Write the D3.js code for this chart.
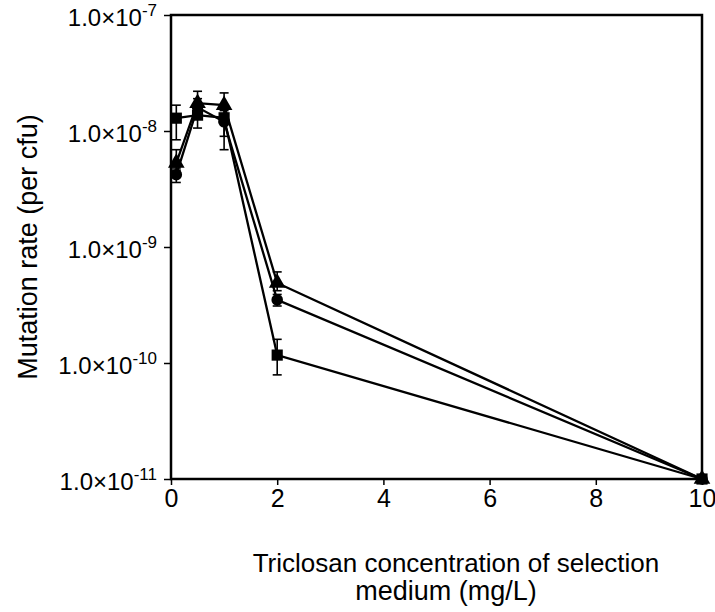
<!DOCTYPE html>
<html>
<head>
<meta charset="utf-8">
<script src="https://cdn.jsdelivr.net/npm/d3@7"></script>
<style>
  body { margin: 0; background: #fff; }
  text { font-family: "Liberation Sans", Arial, sans-serif; fill: #000; }
</style>
</head>
<body>
<div id="chart"></div>
<script>
// concentrations (mg/L)
const concentrations = [0.1, 0.5, 1, 2, 10];

// mutation rates per strain
const squareRates = [1.29e-8, 1.37e-8, 1.3e-8, 1.17e-10, 1e-11];
const circleRates = [4.2e-9, 1.6e-8, 1.2e-8, 3.5e-10, 1e-11];
const triangleRates = [5.3e-9, 1.74e-8, 1.67e-8, 4.9e-10, 1e-11];

// error bar limits (low, high); null = no bar
const squareErr = [[8.4e-9, 1.67e-8], [1.06e-8, 1.7e-8], [6.9e-9, 1.5e-8], [7.9e-11, 1.6e-10], null];
const circleErr = [[3.6e-9, 4.8e-9], [1.4e-8, 1.9e-8], [9e-9, 1.4e-8], [3.1e-10, 3.9e-10], null];
const triangleErr = [[4.6e-9, 6.9e-9], [1.45e-8, 2.2e-8], [1.3e-8, 2.13e-8], [4.2e-10, 6.1e-10], null];

const xTicks = [0, 2, 4, 6, 8, 10];
const yTicks = [-7, -8, -9, -10, -11];

const width = 715, height = 612;
const margin = {left: 171, right: 13, top: 15, bottom: 133};

const svg = d3.select("#chart").append("svg")
    .attr("width", width)
    .attr("height", height);

let x = d3.scaleLinear()
    .domain([0, 10])
    .range([margin.left, width - margin.right]);

let y = d3.scaleLog()
    .domain([1e-11, 1e-7])
    .range([height - margin.bottom, margin.top]);

// frame
svg.append("rect")
    .attr("x", x(0))
    .attr("y", y(1e-7))
    .attr("width", x(10) - x(0))
    .attr("height", y(1e-11) - y(1e-7))
    .attr("fill", "none")
    .attr("stroke", "#000")
    .attr("stroke-width", 2.5);

// x axis
let xAxis = d3.axisBottom(x).tickValues(xTicks).tickSize(6).tickFormat(d3.format("d"));
let gx = svg.append("g")
    .attr("transform", "translate(0," + y(1e-11) + ")")
    .call(xAxis);
gx.select(".domain").remove();
gx.selectAll("line").attr("stroke-width", 1.5);
gx.selectAll("text")
    .attr("font-size", 25)
    .attr("y", 0)
    .attr("dy", 0)
    .attr("transform", "translate(0,28)");

// y axis
let yAxis = d3.axisLeft(y).tickValues(yTicks.map(e => Math.pow(10, e))).tickSize(7).tickFormat("");
let gy = svg.append("g")
    .attr("transform", "translate(" + x(0) + ",0)")
    .call(yAxis);
gy.select(".domain").remove();
gy.selectAll("line").attr("stroke-width", 1.5);

yTicks.forEach(function (e) {
    let t = svg.append("text")
        .attr("x", x(0) - 14)
        .attr("y", y(Math.pow(10, e)) + 11)
        .attr("text-anchor", "end")
        .attr("font-size", 24);
    t.append("tspan").text("1.0×10");
    t.append("tspan")
        .attr("dy", -10)
        .attr("font-size", 17)
        .text(e.toString());
});

// axis titles
svg.append("text")
    .attr("transform", "translate(37," + ((y(1e-7) + y(1e-11)) / 2) + ") rotate(-90)")
    .attr("text-anchor", "middle")
    .attr("font-size", 27)
    .text("Mutation rate (per cfu)");

svg.append("text")
    .attr("x", 456)
    .attr("y", 572)
    .attr("text-anchor", "middle")
    .attr("font-size", 26)
    .text("Triclosan concentration of selection");
svg.append("text")
    .attr("x", 446)
    .attr("y", 600)
    .attr("text-anchor", "middle")
    .attr("font-size", 27)
    .text("medium (mg/L)");

const series = [
    {rates: triangleRates, err: triangleErr, symbol: d3.symbolTriangle, size: 120},
    {rates: circleRates, err: circleErr, symbol: d3.symbolCircle, size: 105},
    {rates: squareRates, err: squareErr, symbol: d3.symbolSquare, size: 125}
];

let line = d3.line()
    .x(d => x(d[0]))
    .y(d => y(d[1]));

series.forEach(function (s) {
    let pts = concentrations.map((c, i) => [c, s.rates[i], s.err[i]]);

    svg.append("path")
        .datum(pts)
        .attr("fill", "none")
        .attr("stroke", "#000")
        .attr("stroke-width", 2.3)
        .attr("d", line);

    let eb = svg.append("g");
    pts.filter(d => d[2]).forEach(function (d) {
        let cx = x(d[0]);
        eb.append("line")
            .attr("x1", cx).attr("x2", cx)
            .attr("y1", y(d[2][0])).attr("y2", y(d[2][1]))
            .attr("stroke", "#000").attr("stroke-width", 1.6);
        d[2].forEach(function (v) {
            eb.append("line")
                .attr("x1", cx - 4.5).attr("x2", cx + 4.5)
                .attr("y1", y(v)).attr("y2", y(v))
                .attr("stroke", "#000").attr("stroke-width", 1.6);
        });
    });

    svg.selectAll(null)
        .data(pts)
        .enter()
        .append("path")
        .attr("transform", d => "translate(" + x(d[0]) + "," + y(d[1]) + ")")
        .attr("d", d3.symbol().type(s.symbol).size(s.size))
        .attr("fill", "#000");
});
</script>
</body>
</html>
